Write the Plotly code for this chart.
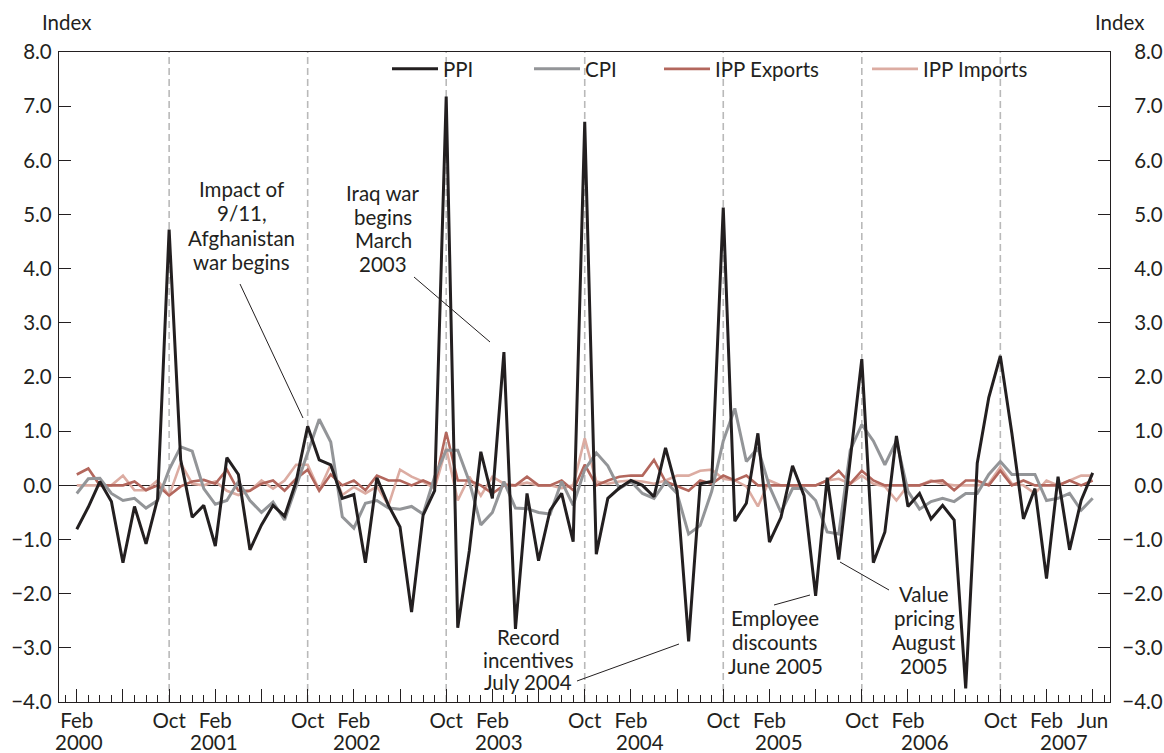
import plotly.graph_objects as go
import pandas as pd

# ---------------- data ----------------
months = pd.period_range("2000-02", "2007-06", freq="M")
month_names = [p.strftime("%b") for p in months]
month_years = [p.year for p in months]

ppi = [
    -0.81, -0.40, 0.07, -0.30, -1.43, -0.39, -1.08, -0.25, 4.72, 0.47, -0.59,          # 2000 Feb-Dec
    -0.37, -1.12, 0.51, 0.20, -1.19, -0.73, -0.37, -0.57, 0.07, 1.09, 0.47, 0.38,       # 2001
    -0.24, -0.17, -1.43, 0.14, -0.37, -0.77, -2.34, -0.55, -0.10, 7.18, -2.63, -1.21,   # 2002
    0.62, -0.24, 2.46, -2.65, -0.15, -1.39, -0.46, -0.15, -1.04, 6.71, -1.27, -0.24,    # 2003
    -0.05, 0.09, 0.00, -0.21, 0.69, -0.10, -2.88, 0.03, 0.07, 5.13, -0.66, -0.33,       # 2004
    0.96, -1.05, -0.59, 0.36, -0.19, -2.04, 0.14, -1.37, 0.50, 2.33, -1.43, -0.86,      # 2005
    0.91, -0.39, -0.15, -0.62, -0.37, -0.64, -3.75, 0.41, 1.62, 2.39, 0.96, -0.62,      # 2006
    -0.06, -1.72, 0.16, -1.19, -0.28, 0.23,                                             # 2007 Jan-Jun
]
cpi = [
    -0.15, 0.12, 0.13, -0.15, -0.28, -0.24, -0.42, -0.28, 0.29, 0.71, 0.63,
    -0.06, -0.35, -0.28, 0.07, -0.28, -0.50, -0.31, -0.64, -0.02, 0.60, 1.22, 0.80,
    -0.58, -0.79, -0.33, -0.28, -0.42, -0.44, -0.39, -0.53, 0.16, 0.65, 0.65, 0.07,
    -0.73, -0.50, 0.07, -0.42, -0.43, -0.50, -0.53, 0.07, -0.37, 0.29, 0.60, 0.36,
    -0.06, 0.07, -0.15, -0.24, 0.07, -0.15, -0.90, -0.74, -0.11, 0.82, 1.42, 0.44,
    0.69, -0.02, -0.50, -0.06, -0.06, -0.28, -0.86, -0.90, 0.65, 1.12, 0.82, 0.38,
    0.82, -0.11, -0.44, -0.30, -0.24, -0.30, -0.15, -0.15, 0.20, 0.44, 0.20, 0.20,
    0.20, -0.28, -0.24, -0.15, -0.46, -0.24,
]
ipp_exports = [
    0.20, 0.31, 0.00, 0.00, 0.00, 0.07, -0.09, 0.00, -0.19, -0.02, 0.07,
    0.10, 0.03, 0.29, -0.10, -0.10, 0.03, 0.09, -0.10, 0.12, 0.29, -0.10, 0.20,
    0.00, 0.09, -0.09, 0.18, 0.09, 0.09, 0.00, 0.09, 0.00, 0.98, 0.09, 0.09,
    0.00, -0.15, 0.00, 0.00, 0.16, 0.00, 0.00, 0.09, -0.09, 0.38, 0.00, 0.09,
    0.16, 0.18, 0.18, 0.47, 0.07, -0.02, -0.10, 0.09, 0.03, 0.18, 0.09, 0.18,
    0.00, 0.00, 0.00, 0.00, 0.00, 0.00, 0.09, 0.27, 0.03, 0.27, 0.09, 0.00,
    0.00, 0.00, 0.00, 0.07, 0.09, -0.09, 0.09, 0.09, 0.00, 0.27, 0.00, 0.09,
    0.00, 0.00, 0.00, 0.09, 0.00, 0.09,
]
ipp_imports = [
    0.00, 0.00, 0.00, 0.00, 0.18, -0.09, -0.09, 0.09, -0.19, 0.41, 0.03,
    0.00, 0.07, -0.10, -0.18, -0.10, 0.09, -0.06, 0.09, 0.38, 0.38, -0.09, 0.38,
    -0.18, -0.03, -0.15, -0.02, -0.37, 0.29, 0.16, 0.07, -0.06, 0.69, -0.28, 0.16,
    -0.19, 0.16, 0.03, 0.00, 0.05, 0.00, 0.00, -0.05, 0.00, 0.87, 0.07, 0.03,
    0.07, 0.09, 0.07, 0.03, 0.09, 0.18, 0.18, 0.27, 0.29, 0.12, 0.09, -0.02,
    -0.39, 0.09, 0.00, 0.00, 0.00, 0.00, 0.09, 0.12, 0.03, 0.18, 0.03, -0.02,
    -0.28, 0.00, 0.00, 0.09, 0.03, 0.00, 0.00, 0.00, 0.03, 0.34, 0.03, 0.00,
    -0.15, 0.09, 0.00, 0.09, 0.18, 0.18,
]

y_ticks = [-4, -3, -2, -1, 0, 1, 2, 3, 4, 5, 6, 7, 8]
year_labels = ["2000", "2001", "2002", "2003", "2004", "2005", "2006", "2007"]

event_texts = [
    ["Impact of", "9/11,", "Afghanistan", "war begins"],
    ["Iraq war", "begins", "March", "2003"],
    ["Record", "incentives", "July 2004"],
    ["Employee", "discounts", "June 2005"],
    ["Value", "pricing", "August", "2005"],
]

# ---------------- layout helpers (pixel geometry of the plot box) ----------------
W, H = 1164, 753
L, R, T, B = 59, 54, 52, 51
PW, PH = W - L - R, H - T - B
X0, X1 = -1.54, 89.5
Y0, Y1 = -4, 8


def px_to_i(px):
    return X0 + (px - L) / PW * (X1 - X0)


def py_to_v(py):
    return Y1 - (py - T) / PH * (Y1 - Y0)


# annotation geometry in pixels: (text centre x, first line centre y, line step, line start, line end)
event_geom = [
    (241.5, 189, 24.3, (240, 284), (303, 418)),
    (383, 193, 23.5, (414, 277), (490, 342)),
    (528, 637, 22.5, (577, 681), (679, 644)),
    (775, 618, 24.0, (774, 605), (810, 595)),
    (924, 594, 24.0, (889, 590), (840, 562)),
]

FONT = "Lato"
FS = 20.5
INK = "#231f20"

fig = go.Figure()
series = [
    ("PPI", ppi, INK, 3.0, "legend", "y2"),
    ("CPI", cpi, "#939598", 3.0, "legend2", "y"),
    ("IPP Exports", ipp_exports, "#b3675d", 2.6, "legend3", "y"),
    ("IPP Imports", ipp_imports, "#dcaca2", 2.6, "legend4", "y"),
]
x = list(range(len(months)))
hover_lbl = [f"{m} {yr}" for m, yr in zip(month_names, month_years)]
for name, vals, col, w, lg, ax in reversed(series):
    fig.add_trace(go.Scatter(
        x=x, y=vals, name=name, mode="lines", yaxis=ax,
        line=dict(color=col, width=w), legend=lg,
        customdata=hover_lbl,
        hovertemplate="%{customdata}: %{y:.2f}<extra>" + name + "</extra>",
    ))

# x ticks: major every 4 months (Feb/Jun/Oct); labels Feb, Oct, and final Jun
tickvals, ticktext = [], []
for i, m in enumerate(month_names):
    if m in ("Feb", "Jun", "Oct"):
        tickvals.append(i)
        ticktext.append("" if (m == "Jun" and i != len(months) - 1) else m)

# Oct reference lines
for i, m in enumerate(month_names):
    if m == "Oct":
        fig.add_shape(type="line", xref="x", yref="paper", x0=i, x1=i, y0=0, y1=1,
                      line=dict(color="#b9b9b9", width=1.6, dash="7px,4px"), layer="below")

# year labels
year_offsets = [0.2, -0.15, 0.3, 0.6, 0.8, 0.8, 1.5, 1.5]
feb_idx = [i for i, m in enumerate(month_names) if m == "Feb"]
for yl, fi, off in zip(year_labels, feb_idx, year_offsets):
    fig.add_annotation(x=fi + off, y=-(742 - (T + PH)) / PH, xref="x", yref="paper", text=yl,
                       showarrow=False, font=dict(family=FONT, size=FS, color=INK),
                       xanchor="center", yanchor="middle")

# event annotations
for lines, (cx, cy, step, p0, p1) in zip(event_texts, event_geom):
    for k, ln in enumerate(lines):
        fig.add_annotation(x=px_to_i(cx), y=py_to_v(cy + k * step), xref="x", yref="y",
                           text=ln, showarrow=False, font=dict(family=FONT, size=FS, color=INK),
                           xanchor="center", yanchor="middle")
    fig.add_shape(type="line", xref="x", yref="y",
                  x0=px_to_i(p0[0]), y0=py_to_v(p0[1]), x1=px_to_i(p1[0]), y1=py_to_v(p1[1]),
                  line=dict(color=INK, width=1))

# "Index" unit labels
for cx in (66.5, 1119.5):
    fig.add_annotation(x=(cx - L) / PW, y=1 + (T - 22) / PH, xref="paper", yref="paper",
                       text="Index", showarrow=False, font=dict(family=FONT, size=FS, color=INK),
                       xanchor="center", yanchor="middle")

ITEMW = 46


def legend_at(text_px):
    return dict(x=(text_px - ITEMW - 10 - L) / PW, y=1 - (69 - T) / PH, xanchor="left",
                yanchor="middle", orientation="h", bgcolor="rgba(0,0,0,0)", borderwidth=0,
                itemwidth=ITEMW, font=dict(family=FONT, size=FS, color=INK))


def ytext(v, pad):
    s = f"{v:.1f}".replace("-", "\u2212")
    return s if (v < 0 or not pad) else "\u2007" + s


common_y = dict(
    range=[Y0, Y1], tickmode="array", tickvals=y_ticks,
    ticks="inside", ticklen=12, tickwidth=1, tickcolor=INK,
    showline=True, linecolor=INK, linewidth=1.3, showgrid=False,
    tickfont=dict(family=FONT, size=FS, color=INK),
)

fig.update_layout(
    width=W, height=H,
    margin=dict(l=L, r=R, t=T, b=B, autoexpand=False),
    paper_bgcolor="white", plot_bgcolor="white",
    font=dict(family=FONT, size=FS, color=INK),
    showlegend=True,
    legend=legend_at(443),
    legend2=legend_at(585),
    legend3=legend_at(715),
    legend4=legend_at(923),
    xaxis=dict(
        range=[X0, X1], tickmode="array", tickvals=tickvals, ticktext=ticktext,
        ticks="inside", ticklen=13, tickwidth=1.2, tickcolor=INK,
        minor=dict(dtick=1, tick0=0, ticks="inside", ticklen=7, tickwidth=1, tickcolor=INK),
        showline=True, linecolor=INK, linewidth=1.3, mirror=True,
        showgrid=False, zeroline=False,
        tickfont=dict(family=FONT, size=FS, color=INK),
    ),
    yaxis=dict(**common_y, ticktext=[ytext(v, False) for v in y_ticks],
               zeroline=True, zerolinecolor=INK, zerolinewidth=1, ticklabelstandoff=2),
    yaxis2=dict(**common_y, ticktext=[ytext(v, True) for v in y_ticks],
                overlaying="y", side="right", zeroline=False, ticklabelstandoff=7),
)

fig.write_html("out.html", config={"displayModeBar": False},
               post_script="document.body.style.margin='0';")
